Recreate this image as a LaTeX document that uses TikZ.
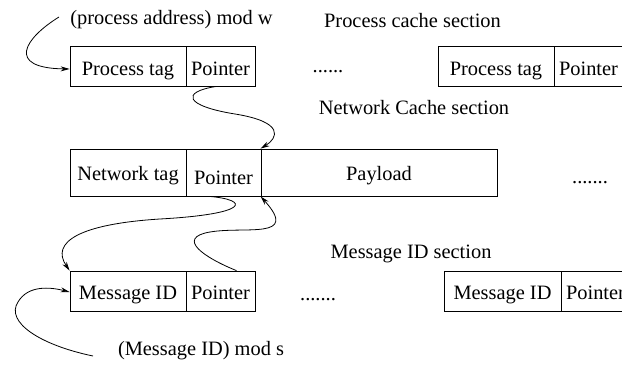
\documentclass[tikz,border=0pt]{standalone}
\usepackage{fontspec}
\setmainfont{Liberation Serif}
\usetikzlibrary{arrows.meta}
\begin{document}
\begin{tikzpicture}[x=1pt,y=-1pt,
  every node/.style={font=\fontsize{20.4}{24}\selectfont},
  cell/.style={draw, line width=0.8pt, inner sep=0pt, minimum height=40pt, text height=16pt, text depth=0pt},
  lbl/.style={inner sep=0pt, anchor=base},
  link/.style={line width=0.8pt, -{Stealth[length=9pt,width=5pt]}},
  plain/.style={line width=0.8pt}]
\useasboundingbox (0,0) rectangle (622,369);
% top row
\node[cell, minimum width=116pt, text height=20pt] (pt1) at (128,66) {Process tag};
\node[cell, minimum width=69pt, text height=20pt] (pp1) at (220.5,66) {Pointer};
\node[cell, minimum width=116pt, text height=20pt] (pt2) at (496,66) {Process tag};
\node[cell, minimum width=69pt, text height=20pt] (pp2) at (588.5,66) {Pointer};
% middle row
\node[cell, minimum width=116pt, minimum height=47pt, text height=15pt] (nt) at (128,172.5) {Network tag};
\node[cell, minimum width=75pt, minimum height=47pt, text height=23pt] (np) at (223.5,172.5) {Pointer};
\node[cell, minimum width=236pt, minimum height=47pt, text height=15pt] (pay) at (379,172.5) {Payload};
% bottom row
\node[cell, minimum width=116pt] (mi1) at (128,291) {Message ID};
\node[cell, minimum width=69pt] (mp1) at (220.5,291) {Pointer};
\node[cell, minimum width=117pt] (mi2) at (502.5,291) {Message ID};
\node[cell, minimum width=69pt] (mp2) at (595.5,291) {Pointer};
% labels
\node[lbl] (lw) at (171.5,25) {(process address) mod w};
\node[lbl] (lpc) at (412.5,28) {Process cache section};
\node[lbl] (lnc) at (414,115) {Network Cache section};
\node[lbl] (lmi) at (411,258) {Message ID section};
\node[lbl] (ls) at (201,355) {(Message ID) mod s};
\node[lbl] (d1) at (328,73) {......};
\node[lbl] (d2) at (590,183) {.......};
\node[lbl] (d3) at (318,300) {.......};
% free ends
\coordinate (w0) at (59,17);
\coordinate (s0) at (93,356);
% connectors
\draw[link] (w0) .. controls (25,38) and (5,68) .. ([yshift=-3pt]pt1.west);
\draw[link] ([xshift=-4pt]pp1.south) .. controls (180,92) and (185,106) .. (235,114)
  .. controls (285,122) and (278,138) .. (pay.north west);
\draw[link] ([xshift=-14pt]np.south) .. controls (250,200) and (250,214) .. (160,219)
  .. controls (80,224) and (50,242) .. (mi1.north west);
\draw[link] ([xshift=16pt]mp1.north) .. controls (205,258) and (175,238) .. (210,232)
  .. controls (245,226) and (300,240) .. (pay.south west);
\draw[link] (s0) .. controls (40,345) and (5,322) .. (18,302)
  .. controls (28,285) and (50,287) .. ([yshift=-1pt]mi1.west);
\end{tikzpicture}
\end{document}
